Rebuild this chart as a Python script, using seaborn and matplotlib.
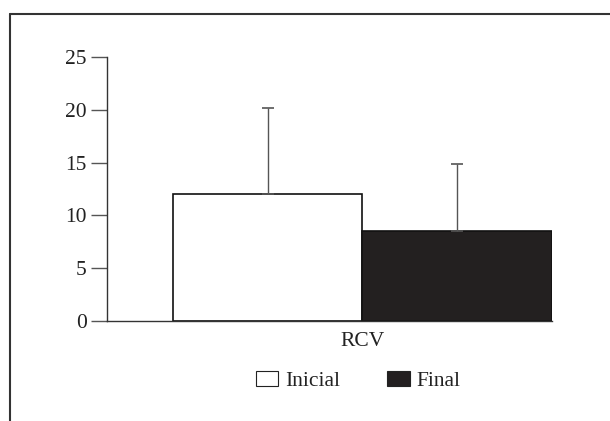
import matplotlib
matplotlib.use('Agg')
import matplotlib.pyplot as plt
import seaborn as sns
import pandas as pd
from matplotlib.lines import Line2D
from matplotlib.patches import Patch

# valores
grupos = ['RCV', 'RCV']
tempos = ['Inicial', 'Final']
medias = [12.0, 8.5]
desvios = [8.2, 6.4]
cores = ['white', '#231f20']
yticks = [0, 5, 10, 15, 20, 25]

df = pd.DataFrame({'grupo': grupos, 'tempo': tempos, 'media': medias})

sns.set_style('white')
plt.rcParams['font.family'] = ['Liberation Serif', 'DejaVu Serif']

fig = plt.figure(figsize=(6.10, 4.21), dpi=100)
ax = fig.add_axes([107 / 610, 1 - 321 / 421, (552 - 107) / 610, (321 - 57) / 421])

sns.barplot(data=df, x='grupo', y='media', hue='tempo', palette=cores,
            edgecolor='#111111', linewidth=1.2, width=0.8, errorbar=None,
            legend=False, ax=ax)

# barras de erro só para cima
for barra, sd in zip(ax.patches, desvios):
    cx = barra.get_x() + barra.get_width() / 2
    h = barra.get_height()
    ax.errorbar([cx], [h], yerr=[[0], [sd]], fmt='none', ecolor='#555555',
                elinewidth=1.0, capsize=4, capthick=1.2)

ax.set_xlim(-0.539, 0.4)
ax.set_ylim(0, 25)
ax.set_yticks(yticks)
ax.set_xlabel('')
ax.set_ylabel('')
for s in ['top', 'right']:
    ax.spines[s].set_visible(False)
for s in ['left', 'bottom']:
    ax.spines[s].set_color('#333333')
    ax.spines[s].set_linewidth(1.0)
ax.tick_params(axis='y', length=11.5, width=1.0, color='#555555', pad=3,
               labelsize=15.5, left=True, labelcolor='#222222')
ax.tick_params(axis='x', length=0, pad=8, labelsize=15.5, labelcolor='#222222')
ax.set_xticks([0])
ax.set_xticklabels(['RCV'])

handles = [Patch(facecolor=c, edgecolor='#222222', linewidth=0.8, label=t)
           for c, t in zip(cores, tempos)]
fig.legend(handles=handles, loc='center', bbox_to_anchor=(358 / 610, 1 - 381 / 421),
           ncol=2, frameon=False, fontsize=15.5, handlelength=1.05, handleheight=0.7,
           handletextpad=0.3, columnspacing=2.2, borderpad=0, labelcolor='#222222')

# moldura em volta da figura
fig.add_artist(Line2D([10 / 610, 1.0], [1 - 14 / 421, 1 - 14 / 421],
                      transform=fig.transFigure, color='#333333', linewidth=1.5))
fig.add_artist(Line2D([10 / 610, 10 / 610], [1 - 14 / 421, 0],
                      transform=fig.transFigure, color='#333333', linewidth=1.5))

fig.savefig('out.png', dpi=100)
